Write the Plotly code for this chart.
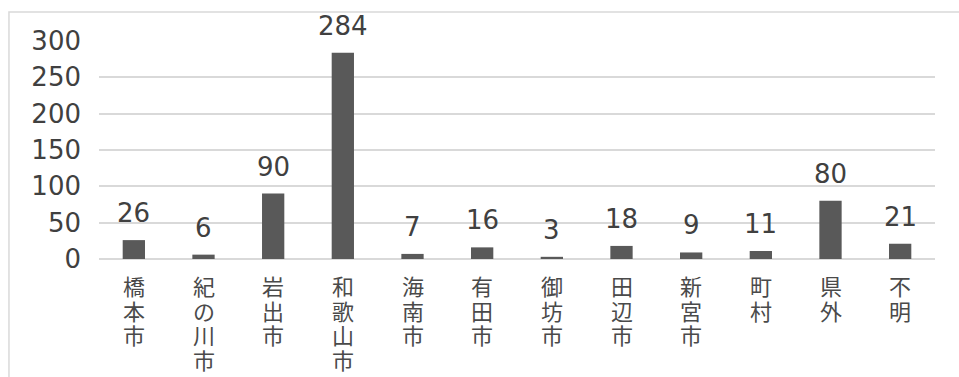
import plotly.graph_objects as go

categories = ["橋本市", "紀の川市", "岩出市", "和歌山市", "海南市", "有田市", "御坊市", "田辺市", "新宮市", "町村", "県外", "不明"]
values = [26, 6, 90, 284, 7, 16, 3, 18, 9, 11, 80, 21]
y_ticks = [0, 50, 100, 150, 200, 250, 300]

BAR = "#595959"
TXT = "#404040"
LBL = "#4a4a4a"
GRID = "#d9d9d9"
NUM_FONT = "DejaVu Sans"
CJK_FONT = "Noto Sans CJK JP"
CJK_SIZE = 22
CHAR_PITCH = 24.5
LABEL_TOP = 9

fig = go.Figure()
fig.add_trace(go.Bar(
    x=categories, y=values,
    marker=dict(color=BAR, line=dict(width=0)),
    width=0.32,
    hoverinfo="skip",
))

# value labels above bars
for c, v in zip(categories, values):
    fig.add_annotation(
        x=c, y=v, text=str(v), showarrow=False,
        yanchor="bottom", xanchor="center", yshift=10,
        font=dict(family=NUM_FONT, size=26, color=TXT),
    )

# vertical (stacked) category labels, one character per row
for c in categories:
    for i, ch in enumerate(c):
        fig.add_annotation(
            x=c, y=0, text=ch, showarrow=False,
            yanchor="top", xanchor="center", borderpad=0,
            yshift=-(LABEL_TOP + i * CHAR_PITCH),
            font=dict(family=CJK_FONT, size=CJK_SIZE, color=LBL),
        )

# outer chart border (top and left edges visible)
fig.add_shape(type="rect", xref="paper", yref="paper",
              x0=-0.1077, x1=1.2, y0=-1.0, y1=1.1327,
              line=dict(color=GRID, width=1.5), fillcolor="rgba(0,0,0,0)", layer="below")

fig.update_layout(
    width=959, height=377,
    margin=dict(l=99, r=24, t=41, b=117.5, autoexpand=False),
    paper_bgcolor="white", plot_bgcolor="white",
    showlegend=False,
    xaxis=dict(
        type="category", categoryorder="array", categoryarray=categories,
        showticklabels=False, showgrid=False, showline=False, ticks="",
        automargin=False, fixedrange=True,
    ),
    yaxis=dict(
        range=[0, 300], tickvals=y_ticks, ticktext=[str(t) for t in y_ticks],
        showgrid=True, gridcolor=GRID, gridwidth=1.5,
        zeroline=True, zerolinecolor=GRID, zerolinewidth=1.5,
        showline=False, ticks="", ticklabelstandoff=17, automargin=False,
        tickfont=dict(family=NUM_FONT, size=26, color=TXT),
        fixedrange=True,
    ),
)

fig.write_html("out.html")
